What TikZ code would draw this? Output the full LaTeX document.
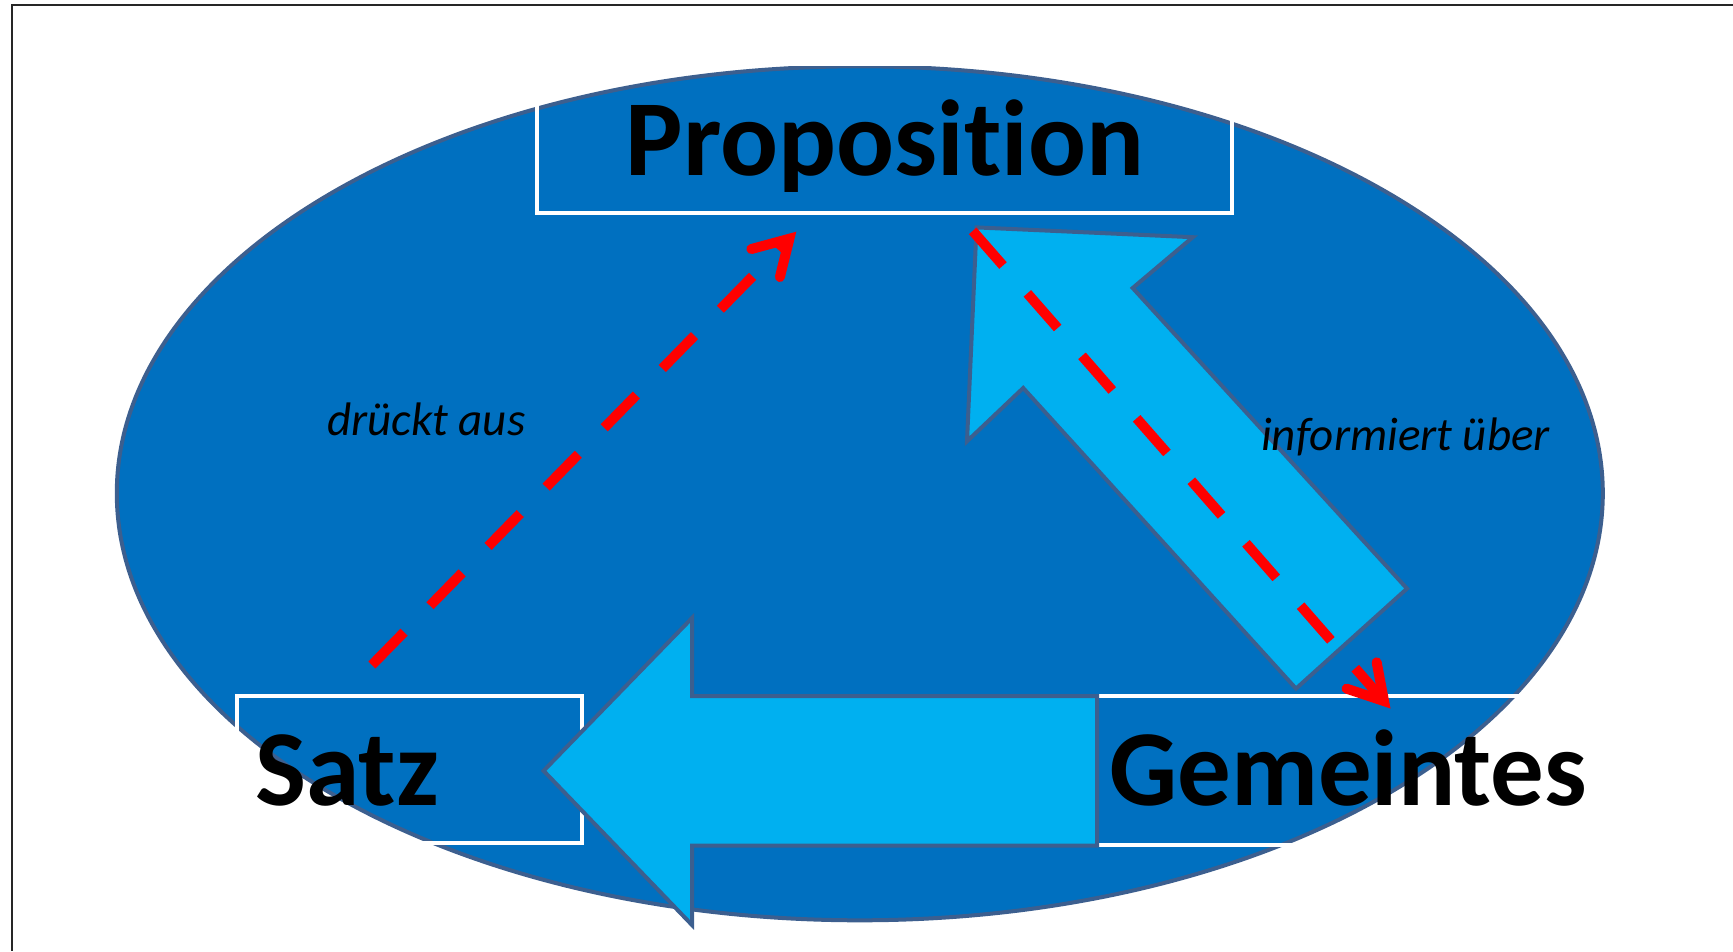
\documentclass[tikz,border=0pt]{standalone}
\usepackage{fontspec}
\setmainfont[Ligatures={NoCommon}]{Carlito}
\usetikzlibrary{shapes.geometric,arrows.meta}
\definecolor{ellfill}{HTML}{0070C0}
\definecolor{edgeblue}{HTML}{3C5F8F}
\definecolor{lightblue}{HTML}{00B0F0}
\definecolor{redline}{HTML}{FF0000}
\begin{document}
\begin{tikzpicture}[x=1pt,y=-1pt,
  frameline/.style={draw=black!85,line width=1.8pt},
  bubble/.style={ellipse,draw=edgeblue,fill=ellfill,line width=4pt,inner sep=0pt},
  whitebox/.style={rectangle,draw=white,line width=4pt,inner sep=0pt},
  bigword/.style={font=\fontsize{108}{120}\selectfont\bfseries,inner sep=0pt,text=black},
  smallword/.style={font=\fontsize{47}{56}\selectfont\itshape,inner sep=0pt,text=black},
  blockarrow/.style={draw=edgeblue,fill=lightblue,line width=4pt,line join=miter},
  reddash/.style={draw=redline,line width=10pt,dash pattern=on 46pt off 37pt,
    -{Straight Barb[length=34pt,width=40pt,line cap=round,line join=miter]}}
]
\useasboundingbox (0,0) rectangle (1733,951);
% frame (only top and left visible)
\coordinate (frTR) at (1733,5.3);
\coordinate (frTL) at (11.7,5.3);
\coordinate (frBL) at (11.7,951);
\draw[frameline] (frTR) -- (frTL) -- (frBL);

% ellipse
\node[bubble,minimum width=1486pt,minimum height=854pt] (circ) at (859.8,493.3) {};

% boxes
\node[whitebox,minimum width=695.3pt,minimum height=149.3pt] (propbox) at (884.4,138.7) {};
\node[whitebox,minimum width=344.7pt,minimum height=147pt] (satzbox) at (409.35,769.8) {};
\node[whitebox,minimum width=463pt,minimum height=149.3pt] (gembox) at (1328.5,770.35) {};

% words
\node[bigword,anchor=base] (prop) at (885,175) {Proposition};
\node[bigword,anchor=base west] (satz) at (255,805) {Satz};
\node[bigword,anchor=base west,xscale=0.99] (gem) at (1109,805) {Gemeintes};

% block arrows
\draw[blockarrow] (543.6,770.8) -- (692,618) -- (692,696) -- (1097,696) -- (1097,845.7)
  -- (692,845.7) -- (692,925) -- cycle;
\draw[blockarrow] (976.5,227.4) -- (1192.8,237.2) -- (1132.7,288) -- (1407,588.6)
  -- (1296,688.6) -- (1023.2,388) -- (967,441.3) -- cycle;

% labels
\node[smallword,anchor=base west] (lab1) at (327,435) {drückt aus};
\node[smallword,anchor=base west] (lab2) at (1261,450) {informiert über};

% red dashed connectors
\coordinate (s1) at (371.9,665);
\coordinate (e1) at (796.3,231.7);
\coordinate (s2) at (972.7,230.9);
\coordinate (e2) at (1390.5,708.5);
\draw[reddash] (s1) -- (e1);
\draw[reddash] (s2) -- (e2);
\end{tikzpicture}
\end{document}
